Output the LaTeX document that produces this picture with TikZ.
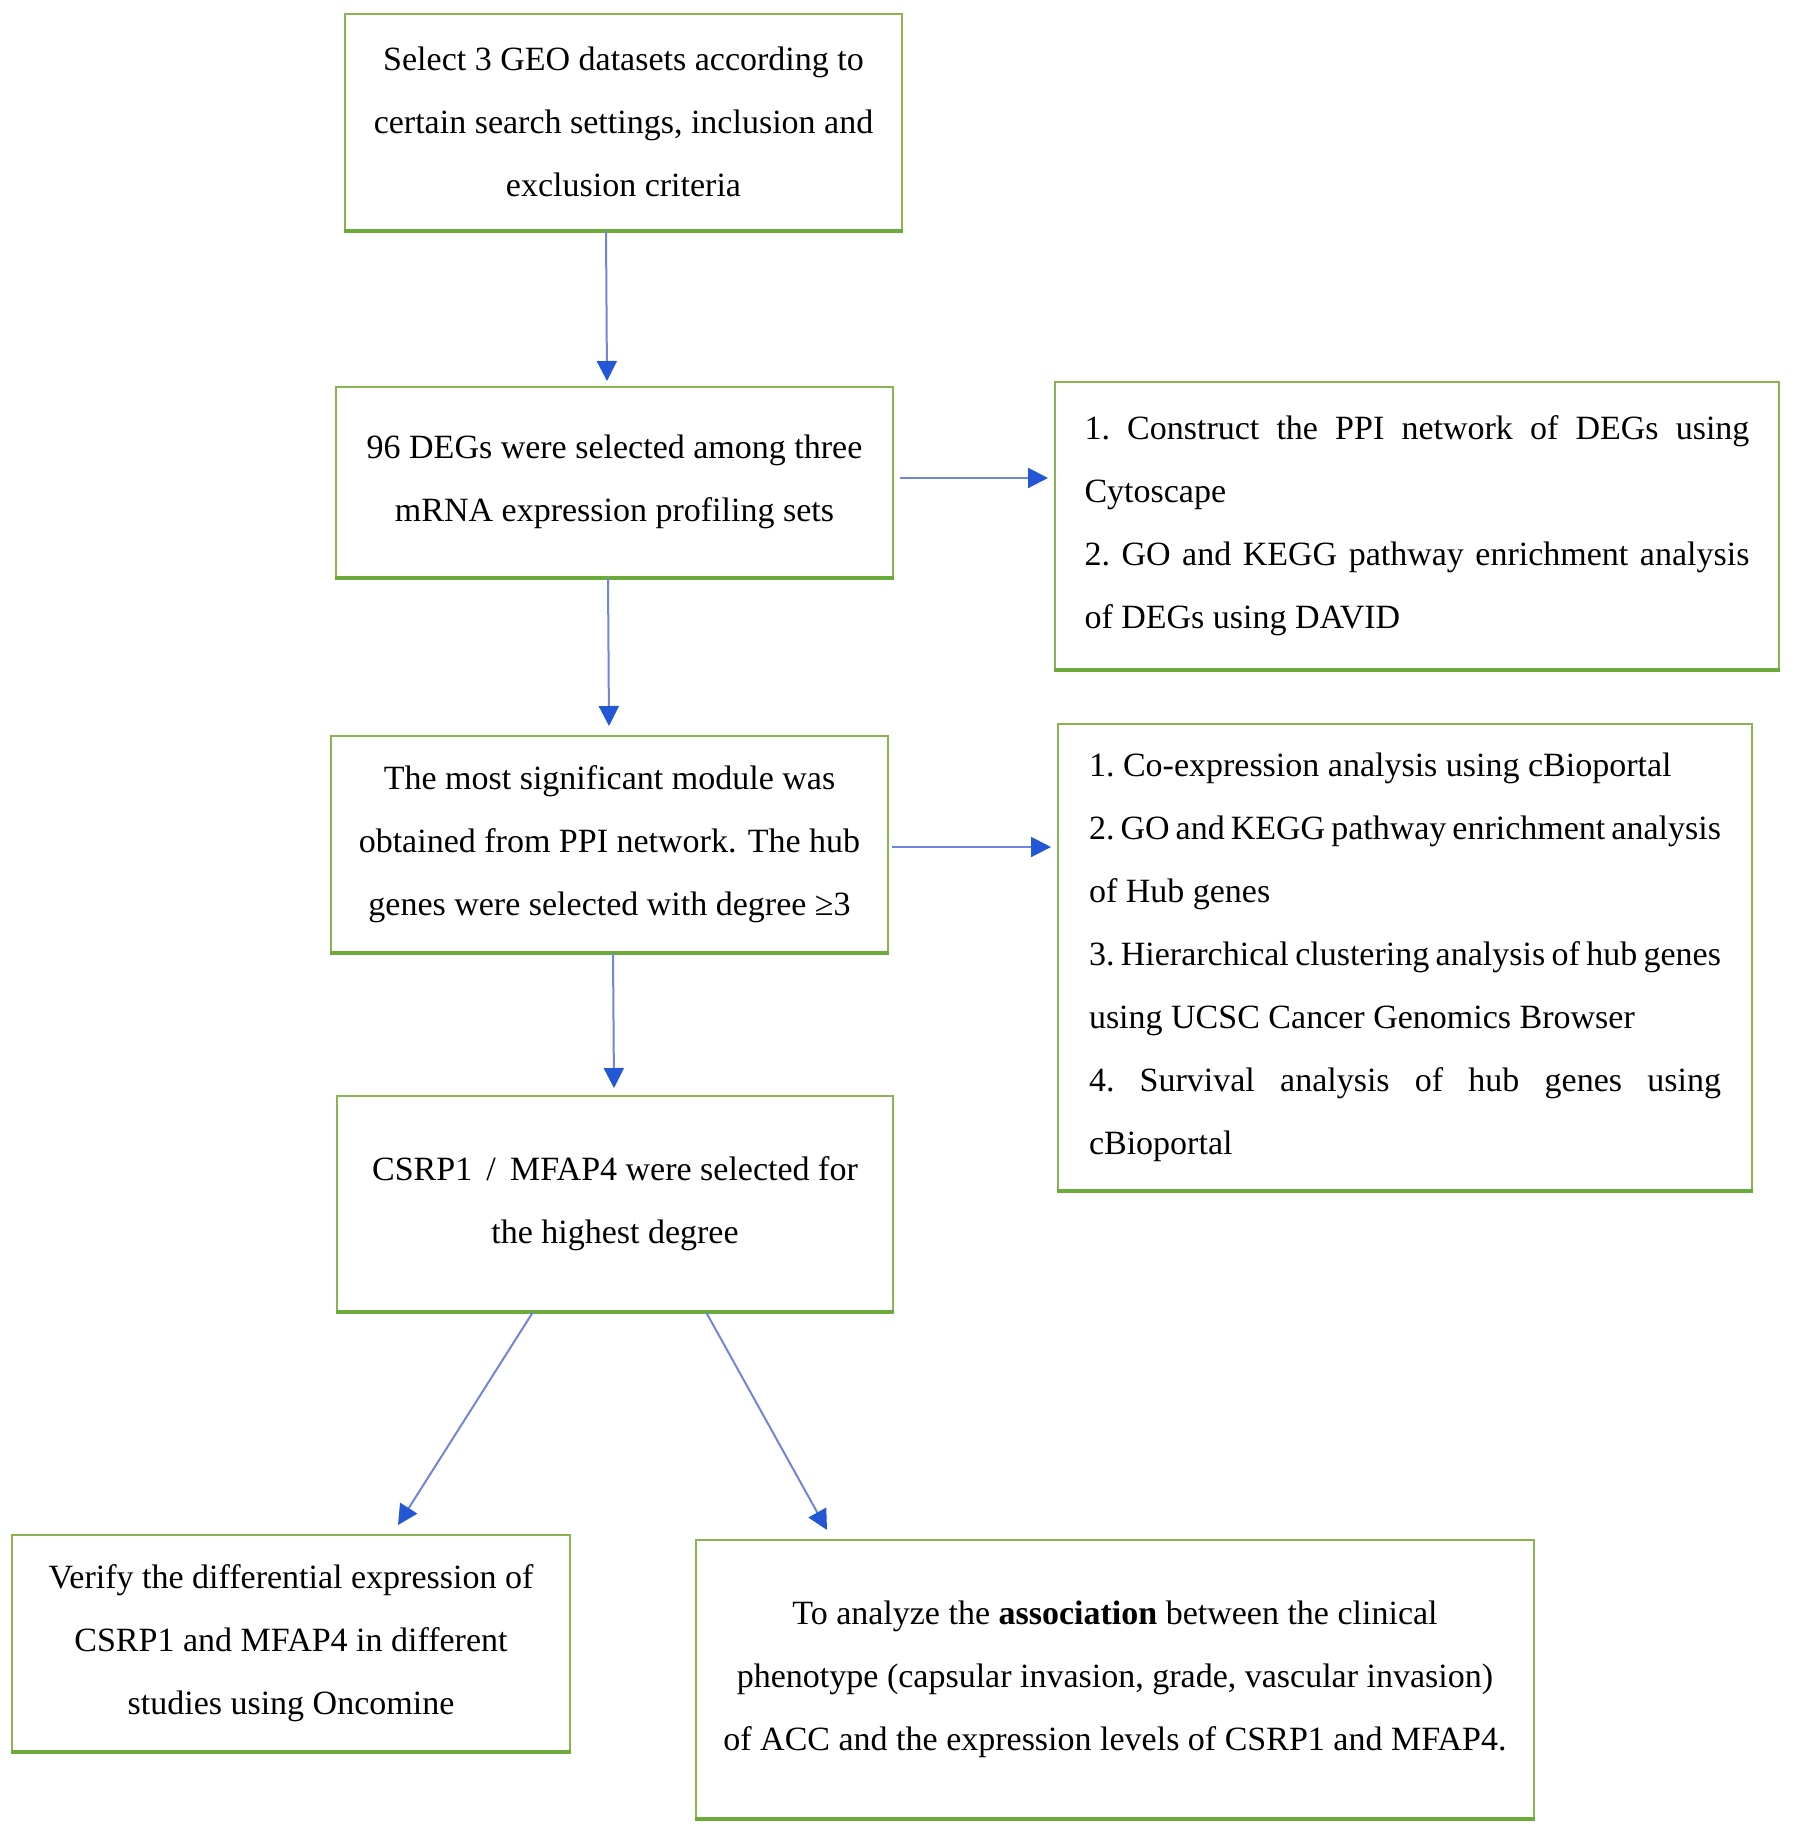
\documentclass[tikz,border=0pt]{standalone}
\usepackage{fontspec}
\setmainfont{Liberation Serif}
\usetikzlibrary{arrows.meta}
\definecolor{boxgreen}{HTML}{8AB352}
\definecolor{boxgreendark}{HTML}{6AAB3A}
\definecolor{lineblue}{HTML}{6F86DA}
\definecolor{headblue}{HTML}{2457D6}
\newcommand{\jsetup}{\hyphenpenalty=10000\relax\tolerance=10000\relax\hbadness=10000\relax}
\begin{document}
\begin{tikzpicture}[x=0.5pt,y=-0.5pt,
  box/.style={draw=boxgreen, line width=1pt, fill=white, align=center, inner sep=0pt,
    font=\fontsize{17}{31.5}\selectfont},
  jbox/.style={box, align=justify, font=\fontsize{17}{31.5}\selectfont\jsetup},
  arr/.style={draw=lineblue, line width=1pt, -{Triangle[length=10pt,width=10pt,color=headblue]}},
  bottomedge/.style={draw=boxgreendark, line width=2pt}
]
\fill[white] (0,0) rectangle (1795,1833);
\useasboundingbox (0,0) rectangle (1795,1833);

\node[box, minimum width=278.5pt, minimum height=108pt] (b1) at (623.5,122)
  {Select 3 GEO datasets according to\\certain search settings, inclusion and\\exclusion criteria};
\node[box, minimum width=278.5pt, minimum height=95pt] (b2) at (614.5,482)
  {96 DEGs were selected among three\\mRNA expression profiling sets};
\node[jbox, text width=332.5pt, minimum width=362pt, minimum height=143.5pt] (b3) at (1417,525.5)
  {1.\ Construct the PPI network of DEGs using\linebreak Cytoscape\\2.\ GO and KEGG pathway enrichment analysis\linebreak of DEGs using DAVID};
\node[box, minimum width=278.5pt, minimum height=108pt] (b4) at (609.5,844)
  {The most significant module was\\obtained from PPI network. The hub\\genes were selected with degree ≥3};
\node[jbox, text width=316pt, minimum width=347pt, minimum height=233pt] (b5) at (1405,957)
  {1.\ Co-expression analysis using cBioportal\\2.\ GO and KEGG pathway enrichment analysis\linebreak of Hub genes\\3.\ Hierarchical clustering analysis of hub genes\linebreak using UCSC Cancer Genomics Browser\\4.\ Survival analysis of hub genes using\linebreak cBioportal};
\node[box, minimum width=278pt, minimum height=107.5pt] (b6) at (615,1203.5)
  {CSRP1\, /\, MFAP4 were selected for\\the highest degree};
\node[box, minimum width=279pt, minimum height=108pt] (b7) at (291,1643)
  {Verify the differential expression of\\CSRP1 and MFAP4 in different\\studies using Oncomine};
\node[box, minimum width=419pt, minimum height=139pt] (b8) at (1115,1679)
  {To analyze the \textbf{association} between the clinical\\phenotype (capsular invasion, grade, vascular invasion)\\of ACC and the expression levels of CSRP1 and MFAP4.};

\foreach \n in {b1,b2,b3,b4,b5,b6,b7,b8}
  \draw[bottomedge] (\n.south west) -- (\n.south east);

% vertical arrows
\draw[arr] ([xshift=-8.75pt]b1.south) -- ([xshift=-3.75pt,yshift=2.5pt]b2.north);
\draw[arr] ([xshift=-3.25pt]b2.south) -- ([xshift=-0.25pt,yshift=4.5pt]b4.north);
\draw[arr] ([xshift=1.75pt]b4.south) -- ([xshift=-0.5pt,yshift=3.5pt]b6.north);
% horizontal arrows
\coordinate (a4s) at ([xshift=3pt,yshift=2pt]b2.east);
\draw[arr, shorten >=3pt] (a4s) -- (a4s -| b3.west);
\coordinate (a5s) at ([xshift=1.5pt,yshift=-1.5pt]b4.east);
\draw[arr, shorten >=3pt] (a5s) -- (a5s -| b5.west);
% diagonal arrows
\draw[arr] ([xshift=-41pt]b6.south) -- ([xshift=53.5pt,yshift=4.5pt]b7.north);
\draw[arr] ([xshift=45.5pt]b6.south) -- ([xshift=-144pt,yshift=4.5pt]b8.north);
\end{tikzpicture}
\end{document}
